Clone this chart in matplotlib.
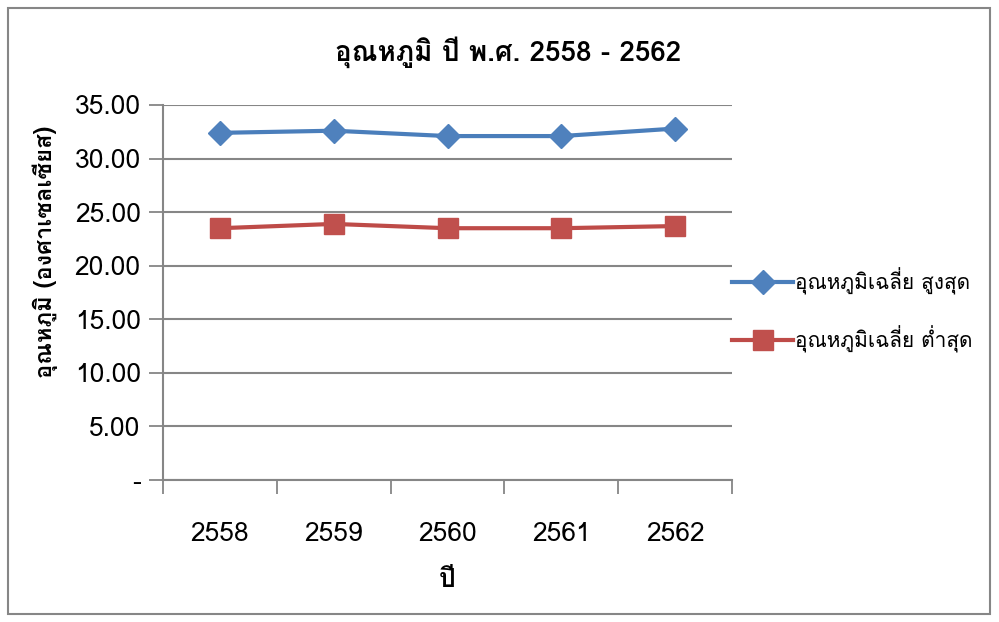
import numpy as np
import matplotlib
matplotlib.use('Agg')
import matplotlib.pyplot as plt
from matplotlib import font_manager
from matplotlib.ticker import FuncFormatter
from matplotlib.patches import Rectangle
from fontTools.ttLib import TTFont

# ข้อมูลอุณหภูมิเฉลี่ยรายปี
years = ['2558', '2559', '2560', '2561', '2562']
temp_max = [32.4, 32.6, 32.1, 32.1, 32.8]
temp_min = [23.5, 23.9, 23.5, 23.5, 23.7]

# หาฟอนต์ที่มีตัวอักษรไทย
def find_thai_fonts():
    found = []
    for f in font_manager.fontManager.ttflist:
        try:
            tt = TTFont(f.fname, fontNumber=0, lazy=True)
            cmap = tt.getBestCmap()
            if cmap and 0x0E2D in cmap and 0x0E38 in cmap:
                found.append(f.name)
        except Exception:
            pass
    return list(dict.fromkeys(found))

thai = find_thai_fonts()
families = thai[:1] + ['DejaVu Sans']
plt.rcParams['font.family'] = families

W, H = 999, 622
fig = plt.figure(figsize=(W / 100, H / 100), dpi=100)
ax = fig.add_axes([163/W, 1 - 480/H, 569/W, 375/H])

x = np.arange(len(years))
ax.plot(x, temp_max, color='#4A7EBB', lw=3, marker='D', ms=12,
        mfc='#4F81BD', mec='#4F81BD', label='อุณหภูมิเฉลี่ย สูงสุด')
ax.plot(x, temp_min, color='#BE4B48', lw=3, marker='s', ms=14,
        mfc='#C0504D', mec='#C0504D', label='อุณหภูมิเฉลี่ย ต่ำสุด')

ax.set_xlim(-0.5, len(years) - 0.5)
ax.set_ylim(0, 35)
ax.set_yticks(np.arange(0, 35.1, 5))
ax.yaxis.set_major_formatter(FuncFormatter(lambda v, p: '-' if v == 0 else f'{v:.2f}'))
ax.set_xticks(x)
ax.set_xticklabels(years)
ax.set_xticks(np.arange(-0.5, len(years)), minor=True)
ax.tick_params(axis='x', which='major', length=0, pad=30, labelsize=19)
ax.tick_params(axis='x', which='minor', length=10, width=1.3, color='#868686', direction='out')
ax.tick_params(axis='y', length=10, width=1.3, color='#868686', direction='out', labelsize=19, pad=6)

ax.grid(axis='y', color='#868686', lw=1.5)
for s in ['top', 'right']:
    ax.spines[s].set_visible(False)
for s in ['left', 'bottom']:
    ax.spines[s].set_color('#868686')
    ax.spines[s].set_linewidth(1.5)
ax.set_axisbelow(True)

# ชื่อกราฟและชื่อแกน
fig.text(508/W, 1 - 52/H, 'อุณหภูมิ ปี พ.ศ. 2558 - 2562', fontsize=20, fontweight='bold',
         ha='center', va='center')
fig.text(447/W, 1 - 580/H, 'ปี', fontsize=19, fontweight='bold', ha='center', va='center')
fig.text(45/W, 1 - 252/H, 'อุณหภูมิ (องศาเซลเซียส)', fontsize=17, fontweight='bold',
         ha='center', va='center', rotation=90)

fig.legend(loc='center left', bbox_to_anchor=(724/W, 1 - 310/H), frameon=False, fontsize=15,
           handlelength=2.9, handletextpad=0.1, labelspacing=1.45, borderaxespad=0)

fig.patches.append(Rectangle((8/W, 8/H), 982/W, 606/H, transform=fig.transFigure,
                             fill=False, edgecolor='#868686', lw=1.5))

fig.savefig('out.png', dpi=100)
